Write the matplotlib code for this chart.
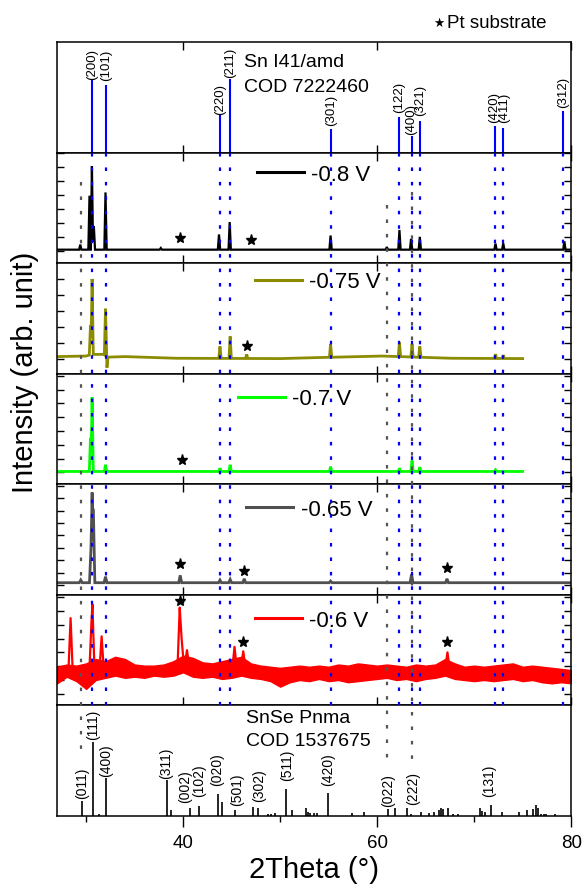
import numpy as np
import matplotlib
matplotlib.use("Agg")
import matplotlib.pyplot as plt
from matplotlib.lines import Line2D
from matplotlib.transforms import blended_transform_factory
from matplotlib.ticker import MultipleLocator, FixedLocator

plt.rcParams['font.family'] = ['Liberation Sans', 'DejaVu Sans']

# ---------------- data ----------------
x_limits = (27, 80)

# Sn I41/amd reference (COD 7222460)
sn_pos = [30.62, 32.07, 43.82, 44.85, 55.22, 62.30, 63.60, 64.40, 72.20, 73.00, 79.20]
sn_int = [0.67, 0.61, 0.34, 0.67, 0.21, 0.32, 0.15, 0.29, 0.24, 0.22, 0.38]
sn_hkl = ['(200)', '(101)', '(220)', '(211)', '(301)', '(122)', '(400)', '(321)',
          '(420)', '(411)', '(312)']

# SnSe Pnma reference (COD 1537675)
snse_pos = [29.56, 30.69, 31.36, 32.10, 38.30, 38.80, 40.74, 41.60, 43.58, 44.00,
            45.38, 47.19, 47.72, 48.70, 49.06, 49.50, 50.58, 51.19, 52.64, 52.85,
            53.10, 53.45, 53.80, 54.94, 57.40, 58.60, 61.10, 61.84, 63.05, 63.54,
            64.53, 65.38, 65.84, 66.40, 66.60, 66.75, 67.26, 67.86, 68.30, 70.60,
            70.85, 71.10, 71.75, 72.90, 74.60, 75.40, 76.10, 76.36, 76.55, 76.90,
            77.20, 77.45, 78.30]
snse_int = [0.136, 0.673, 0.015, 0.34, 0.324, 0.05, 0.076, 0.09, 0.203, 0.127,
            0.05, 0.085, 0.076, 0.015, 0.02, 0.03, 0.248, 0.05, 0.076, 0.04,
            0.03, 0.025, 0.03, 0.212, 0.024, 0.04, 0.06, 0.076, 0.076, 0.02,
            0.04, 0.03, 0.04, 0.055, 0.076, 0.06, 0.076, 0.02, 0.015, 0.076,
            0.045, 0.04, 0.10, 0.04, 0.04, 0.05, 0.06, 0.10, 0.075, 0.02,
            0.015, 0.015, 0.015]
snse_hkl = ['(011)', '(111)', '(400)', '(311)', '(002)', '(102)', '(020)', '(501)',
            '(302)', '(511)', '(420)', '(022)', '(222)', '(131)']
snse_hkl_x = [29.6, 30.69, 32.10, 38.30, 40.2, 41.6, 43.54, 45.6, 47.8, 50.7,
              54.94, 61.17, 63.7, 71.5]

# SnSe peaks marked by grey dotted guide lines
snse_guides = [29.45, 61.0, 63.55]

sample_labels = ['-0.8 V', '-0.75 V', '-0.7 V', '-0.65 V', '-0.6 V']

# -0.8 V
s08_base_x = [27, 80]
s08_base_y = [0.122, 0.122]
s08_pk_x = [29.40, 30.35, 30.60, 30.80, 32.00, 37.70, 43.70, 44.80, 55.20, 61.00,
            62.30, 63.50, 64.40, 72.20, 73.00, 79.30]
s08_pk_y = [0.168, 0.61, 0.878, 0.335, 0.64, 0.137, 0.26, 0.372, 0.25, 0.146,
            0.30, 0.22, 0.238, 0.177, 0.18, 0.198]
s08_star_x = [39.72, 46.97]
s08_star_y = [0.229, 0.207]

# -0.75 V
s075_base_x = [27, 30.0, 30.8, 31.8, 32.1, 32.15, 32.25, 34, 39.3, 50, 53.4, 60.5, 67.6, 75]
s075_base_y = [0.155, 0.16, 0.175, 0.175, 0.16, 0.055, 0.15, 0.155, 0.14, 0.137,
               0.145, 0.16, 0.14, 0.137]
s075_pk_x = [30.45, 30.62, 32.00, 43.80, 44.85, 46.55, 55.20, 62.30, 63.60, 64.40,
             72.20, 73.00]
s075_pk_y = [0.436, 0.857, 0.588, 0.247, 0.338, 0.175, 0.268, 0.283, 0.268, 0.247,
             0.177, 0.168]
s075_star_x = [46.55]
s075_star_y = [0.247]

# -0.7 V
s07_base_x = [27, 75]
s07_base_y = [0.116, 0.116]
s07_pk_x = [30.45, 30.62, 32.00, 43.80, 44.85, 55.20, 62.30, 63.60, 64.40, 72.20]
s07_pk_y = [0.42, 0.787, 0.177, 0.146, 0.177, 0.16, 0.146, 0.216, 0.155, 0.131]
s07_star_x = [39.93]
s07_star_y = [0.223]

# -0.65 V
s065_base_x = [27, 80]
s065_base_y = [0.11, 0.11]
s065_pk_x = [29.45, 30.50, 30.62, 30.75, 32.00, 39.70, 43.80, 44.85, 46.30, 55.20,
             63.55, 67.20]
s065_pk_y = [0.134, 0.415, 0.927, 0.765, 0.165, 0.177, 0.134, 0.14, 0.146, 0.125,
             0.186, 0.146]
s065_star_x = [39.70, 46.30, 67.20]
s065_star_y = [0.277, 0.216, 0.24]

# -0.6 V (noisy: upper / lower edge of the noise band, read every 1 degree)
s06_band_x = [27, 28, 29, 30, 31, 32, 33, 34, 35, 36, 37, 38, 39, 40, 41, 42, 43,
              44, 45, 46, 47, 48, 49, 50, 51, 52, 53, 54, 55, 56, 57, 58, 59, 60,
              61, 62, 63, 64, 65, 66, 67, 68, 69, 70, 71, 72, 73, 74, 75, 76, 77,
              78, 79, 80]
s06_band_hi = [0.35, 0.37, 0.36, 0.38, 0.42, 0.40, 0.44, 0.42, 0.37, 0.36, 0.36,
               0.37, 0.40, 0.45, 0.43, 0.39, 0.38, 0.40, 0.42, 0.44, 0.38, 0.36,
               0.35, 0.34, 0.35, 0.36, 0.35, 0.36, 0.35, 0.37, 0.36, 0.38, 0.37,
               0.36, 0.37, 0.36, 0.35, 0.37, 0.36, 0.37, 0.42, 0.38, 0.35, 0.36,
               0.35, 0.36, 0.37, 0.38, 0.35, 0.36, 0.35, 0.34, 0.33, 0.32]
s06_band_lo = [0.20, 0.26, 0.22, 0.15, 0.23, 0.25, 0.27, 0.25, 0.26, 0.25, 0.27,
               0.26, 0.27, 0.30, 0.26, 0.25, 0.26, 0.24, 0.25, 0.27, 0.25, 0.24,
               0.22, 0.17, 0.21, 0.23, 0.22, 0.24, 0.22, 0.23, 0.21, 0.22, 0.23,
               0.24, 0.25, 0.23, 0.24, 0.22, 0.24, 0.25, 0.27, 0.24, 0.23, 0.22,
               0.23, 0.22, 0.23, 0.24, 0.22, 0.23, 0.21, 0.20, 0.21, 0.20]
s06_pk_x = [28.40, 30.55, 30.65, 31.60, 39.65, 39.85, 40.40, 45.30, 46.20, 67.25]
s06_pk_y = [0.79, 0.75, 0.915, 0.625, 0.885, 0.60, 0.50, 0.53, 0.49, 0.48]
s06_star_x = [39.70, 46.20, 67.20]
s06_star_y = [0.945, 0.573, 0.573]

# ---------------- style / layout ----------------
colors = ['#000000', '#8c8c00', '#00ff00', '#505050', '#ff0000']
peak_hw = [0.12, 0.12, 0.12, 0.15, 0.22]
line_w = [1.6, 2.0, 2.0, 2.0, 1.6]
legend_xy = [(0.389, 0.80), (0.385, 0.83), (0.352, 0.773), (0.368, 0.774), (0.385, 0.771)]
ytick_start = [0.107, 0.131, 0.107, 0.089, 0.101]
ytick_step = [0.127, 0.145, 0.125, 0.112, 0.126]
sn_label_x = [30.62, 32.07, 43.82, 44.85, 55.22, 62.30, 63.55, 64.45, 72.10, 73.05, 79.20]
sn_label_y = [0.669, 0.654, 0.352, 0.684, 0.247, 0.367, 0.172, 0.337, 0.277, 0.277, 0.413]
snse_label_y = [0.167, 0.697, 0.364, 0.348, 0.13, 0.18, 0.282, 0.10, 0.136, 0.327,
                0.282, 0.09, 0.112, 0.18]
guide_start = [0.736, 0.525, 0.645]     # axes fraction in -0.8 V panel
guide_end = [0.515, 0.485, 0.44]        # axes fraction in SnSe panel
BLUE = '#0000ff'
GUIDE_GRAY = '#555555'
dots = (0, (1.6, 4.9))


def curve(bx, by, px, py, hw):
    bx = np.asarray(bx, float)
    by = np.asarray(by, float)
    pts = [bx]
    for p in px:
        pts.append(np.array([p - hw, p, p + hw]))
    x = np.unique(np.concatenate(pts))
    x = x[(x >= bx.min()) & (x <= bx.max())]
    y = np.interp(x, bx, by)
    for p, h in zip(px, py):
        b = np.interp(p, bx, by)
        tri = np.interp(x, [p - hw, p, p + hw], [b, h, b], left=-np.inf, right=-np.inf)
        y = np.maximum(y, tri)
    return x, y


fig, axes = plt.subplots(7, 1, sharex=True, figsize=(5.84, 8.87), dpi=100,
                         gridspec_kw=dict(hspace=0, left=0.0976, right=0.978,
                                          top=0.9515, bottom=0.0789))
ax_sn, ax_snse = axes[0], axes[-1]
sample_axes = axes[1:6]

for ax in axes:
    ax.set_xlim(*x_limits)
    ax.set_ylim(0, 1)
    for s in ax.spines.values():
        s.set_linewidth(1.1)
    ax.xaxis.set_major_locator(MultipleLocator(10))
    ax.tick_params(axis='x', direction='in', top=True, bottom=True, length=6, width=1,
                   labelbottom=False)
    ax.tick_params(axis='y', left=False, right=False, labelleft=False)

# --- Sn reference panel ---
ax_sn.vlines(sn_pos, 0, sn_int, color=BLUE, lw=1.5)
for xp, lab, ly in zip(sn_label_x, sn_hkl, sn_label_y):
    ax_sn.text(xp, ly, lab, rotation=90, ha='center', va='bottom', fontsize=9.5)
ax_sn.text(0.364, 0.82, 'Sn I41/amd', transform=ax_sn.transAxes, fontsize=14,
           ha='left', va='center')
ax_sn.text(0.364, 0.60, 'COD 7222460', transform=ax_sn.transAxes, fontsize=14,
           ha='left', va='center')

# --- sample panels ---
series = [
    (s08_base_x, s08_base_y, s08_pk_x, s08_pk_y, s08_star_x, s08_star_y),
    (s075_base_x, s075_base_y, s075_pk_x, s075_pk_y, s075_star_x, s075_star_y),
    (s07_base_x, s07_base_y, s07_pk_x, s07_pk_y, s07_star_x, s07_star_y),
    (s065_base_x, s065_base_y, s065_pk_x, s065_pk_y, s065_star_x, s065_star_y),
]
for i, ax in enumerate(sample_axes):
    c = colors[i]
    if i < 4:
        bx, by, px, py, sx, sy = series[i]
        x, y = curve(bx, by, px, py, peak_hw[i])
        ax.plot(x, y, color=c, lw=line_w[i], solid_joinstyle='miter', zorder=2)
    else:
        lo = np.asarray(s06_band_lo)
        hi = np.asarray(s06_band_hi)
        ax.fill_between(s06_band_x, lo, hi, color=c, lw=1.0, edgecolor=c, zorder=2)
        x, y = curve(s06_band_x, (lo + hi) / 2, s06_pk_x, s06_pk_y, peak_hw[i])
        ax.plot(x, y, color=c, lw=line_w[i], zorder=2)
        sx, sy = s06_star_x, s06_star_y
    ax.plot(sx, sy, ls='none', marker='*', ms=8, color='black', zorder=4)
    ax.tick_params(axis='y', direction='in', left=True, right=True, length=5, width=1)
    ax.yaxis.set_major_locator(FixedLocator(
        np.arange(ytick_start[i], 1.0, ytick_step[i])))
    ax.legend([Line2D([], [], color=c, lw=2.2)], [sample_labels[i]],
              loc='center left', bbox_to_anchor=legend_xy[i], frameon=False,
              fontsize=16, handlelength=2.1, handletextpad=0.35, borderpad=0,
              borderaxespad=0)

# --- SnSe reference panel ---
ax_snse.vlines(snse_pos, 0, snse_int, color='black', lw=1.2)
for xp, lab, ly in zip(snse_hkl_x, snse_hkl, snse_label_y):
    ax_snse.text(xp, ly, lab, rotation=90, ha='center', va='bottom', fontsize=10)
ax_snse.text(0.3675, 0.894, 'SnSe Pnma', transform=ax_snse.transAxes, fontsize=14,
             ha='left', va='center')
ax_snse.text(0.3675, 0.68, 'COD 1537675', transform=ax_snse.transAxes, fontsize=14,
             ha='left', va='center')
ax_snse.xaxis.set_major_locator(MultipleLocator(20))
ax_snse.xaxis.set_minor_locator(MultipleLocator(10))
ax_snse.tick_params(axis='x', which='major', direction='out', top=False, bottom=True,
                    length=8, width=1, labelbottom=True, labelsize=13.5, pad=5)
ax_snse.tick_params(axis='x', which='minor', direction='out', top=False, bottom=True,
                    length=4, width=1)

# --- guide lines across panels ---
def fig_y(ax, f):
    p = ax.get_position()
    return p.y0 + f * p.height

trans = blended_transform_factory(ax_snse.transData, fig.transFigure)
y_top = fig_y(sample_axes[0], 1.0)
y_bot = fig_y(ax_snse, 1.0)
for xp in sn_pos:
    fig.add_artist(Line2D([xp, xp], [y_top, y_bot], transform=trans, color=BLUE,
                          lw=1.6, ls=dots, zorder=5))
for xp, s0, s1 in zip(snse_guides, guide_start, guide_end):
    fig.add_artist(Line2D([xp, xp], [fig_y(sample_axes[0], s0), fig_y(ax_snse, s1)],
                          transform=trans, color=GUIDE_GRAY, lw=1.6, ls=dots, zorder=5))

# --- figure texts ---
fig.text(0.043, 0.58, 'Intensity (arb. unit)', rotation=90, ha='center', va='center',
         fontsize=21)
fig.text(0.537, 0.019, '2Theta (°)', ha='center', va='center', fontsize=21)
fig.text(0.752, 0.9735, '★', ha='center', va='center', fontsize=9,
         family=['DejaVu Sans'])
fig.text(0.765, 0.9735, 'Pt substrate', ha='left', va='center', fontsize=13.5)

fig.savefig('out.png', dpi=100)
